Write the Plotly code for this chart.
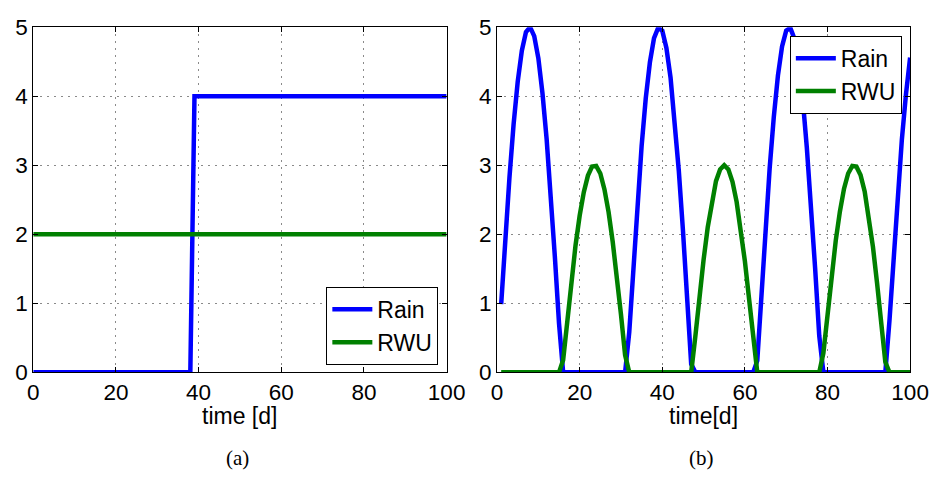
import plotly.graph_objects as go

# ---- panel (a): step rain, constant root water uptake ----
time_a_rain = [0, 38, 39, 100]
rain_a = [0, 0, 4, 4]
time_a_rwu = [0, 100]
rwu_a = [2, 2]

# ---- panel (b): periodic rain and root water uptake, daily values ----
time_b = list(range(1, 101))
rain_b = (
    [0.99, 1.95, 2.82, 3.59, 4.21, 4.66, 4.93, 5.00, 4.87, 4.55, 4.04, 3.38, 2.58, 1.67, 0.71]
    + [0.0] * 16
    + [0.58, 1.56, 2.47, 3.28, 3.97, 4.49, 4.84, 4.99, 4.95, 4.70, 4.27, 3.67, 2.92, 2.06, 1.11, 0.12]
    + [0.0] * 15
    + [0.17, 1.15, 2.10, 2.96, 3.70, 4.30, 4.72, 4.95, 4.99, 4.83, 4.49, 3.96, 3.25, 2.44, 1.51, 0.53]
    + [0.0] * 16
    + [0.75, 1.69, 2.58, 3.37, 4.03, 4.56]
)
rwu_b = (
    [0.0] * 15
    + [0.18, 0.77, 1.33, 1.84, 2.27, 2.61, 2.85, 2.98, 2.99, 2.88, 2.65, 2.32, 1.89, 1.39, 0.84, 0.25]
    + [0.0] * 16
    + [0.52, 1.10, 1.63, 2.10, 2.48, 2.77, 2.94, 3.00, 2.94, 2.76, 2.47, 2.08, 1.61, 1.07, 0.50]
    + [0.0] * 16
    + [0.28, 0.86, 1.42, 1.91, 2.33, 2.66, 2.88, 2.99, 2.98, 2.86, 2.62, 2.25, 1.82, 1.29, 0.72, 0.15]
    + [0.0] * 6
)

x_ticks = [0, 20, 40, 60, 80, 100]
y_ticks = [0, 1, 2, 3, 4, 5]
x_labels = ["time [d]", "time[d]"]
captions = ["(a)", "(b)"]

BLUE = "#0000FF"
GREEN = "#008000"
LW = 4.5
W, H = 952, 484
SANS = "Liberation Sans, Arial, sans-serif"
SERIF = "Liberation Serif, DejaVu Serif, serif"

def px_x(p):
    return p / W

def px_y(p):
    return 1 - p / H

fig = go.Figure()

fig.add_trace(go.Scatter(x=time_a_rain, y=rain_a, mode="lines", name="Rain",
                         line=dict(color=BLUE, width=LW), xaxis="x", yaxis="y", legend="legend"))
fig.add_trace(go.Scatter(x=time_a_rwu, y=rwu_a, mode="lines", name="RWU",
                         line=dict(color=GREEN, width=LW), xaxis="x", yaxis="y", legend="legend"))
fig.add_trace(go.Scatter(x=time_b, y=rain_b, mode="lines", name="Rain",
                         line=dict(color=BLUE, width=LW), xaxis="x2", yaxis="y2", legend="legend2"))
fig.add_trace(go.Scatter(x=time_b, y=rwu_b, mode="lines", name="RWU",
                         line=dict(color=GREEN, width=LW), xaxis="x2", yaxis="y2", legend="legend2"))

axis_common = dict(
    showline=True, linecolor="black", linewidth=1, mirror="ticks",
    ticks="inside", ticklen=5, tickcolor="black", tickwidth=1,
    showgrid=True, gridcolor="#8a8a8a", griddash="1.5px,5.5px", gridwidth=1,
    zeroline=False, tickfont=dict(family=SANS, size=22.5, color="black"),
)

legend_common = dict(
    bgcolor="white", bordercolor="black", borderwidth=1,
    font=dict(family=SANS, size=23, color="black"),
    tracegroupgap=0, itemwidth=40,
)

y_dom = [px_y(380), px_y(16)]
fig.update_layout(
    width=W, height=H,
    margin=dict(l=0, r=0, t=0, b=0),
    paper_bgcolor="white", plot_bgcolor="white",
    xaxis=dict(domain=[px_x(28), px_x(452.5)], range=[0, 100], tickvals=x_ticks,
               anchor="y", **axis_common),
    yaxis=dict(domain=y_dom, range=[0, 5], tickvals=y_ticks, anchor="x", **axis_common),
    xaxis2=dict(domain=[px_x(504.3), px_x(928.5)], range=[0, 100], tickvals=x_ticks,
                anchor="y2", **axis_common),
    yaxis2=dict(domain=y_dom, range=[0, 5], tickvals=y_ticks, anchor="x2", **axis_common),
    legend=dict(x=px_x(444), y=px_y(372), xanchor="right", yanchor="bottom", **legend_common),
    legend2=dict(x=px_x(920), y=px_y(25), xanchor="right", yanchor="top", **legend_common),
    showlegend=True,
)

centers = [240, 716]
for cx, xl, cap in zip(centers, x_labels, captions):
    fig.add_annotation(x=px_x(cx), y=px_y(426), xref="paper", yref="paper",
                       text=xl, showarrow=False, xanchor="center", yanchor="middle",
                       font=dict(family=SANS, size=23, color="black"))
    fig.add_annotation(x=px_x(cx - 2), y=px_y(470), xref="paper", yref="paper",
                       text=cap, showarrow=False, xanchor="center", yanchor="middle",
                       font=dict(family=SERIF, size=21, color="black"))

fig.write_html("out.html")
